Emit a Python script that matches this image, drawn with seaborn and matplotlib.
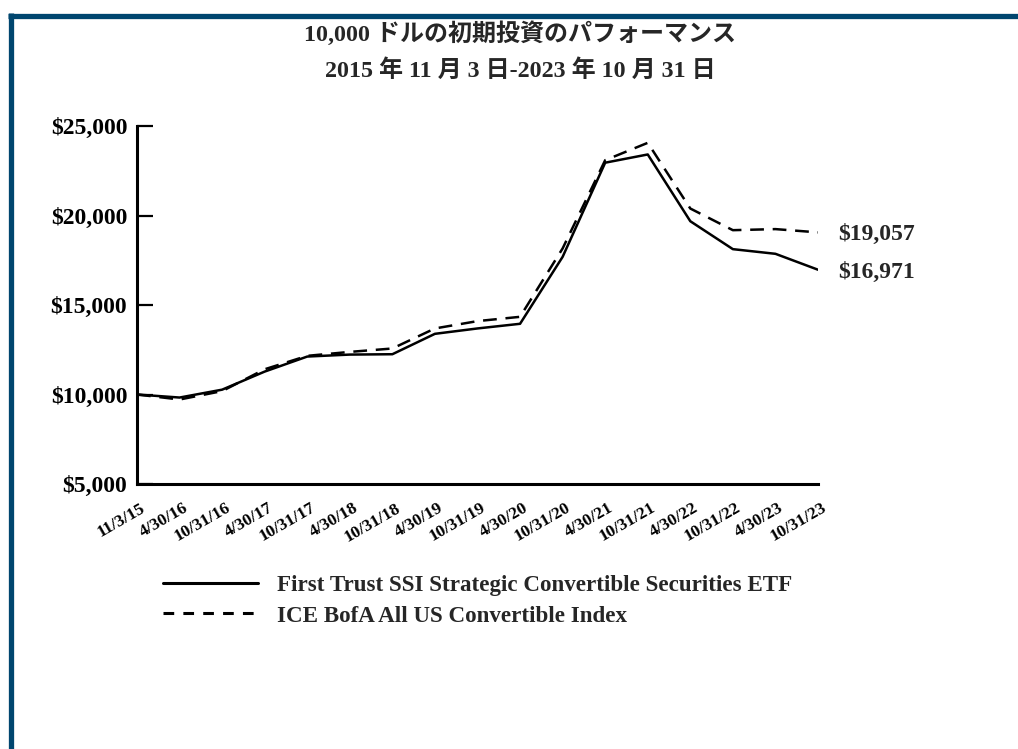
import matplotlib
matplotlib.use("Agg")
import matplotlib.pyplot as plt
import matplotlib.transforms as mtransforms
from matplotlib.lines import Line2D
import seaborn as sns
import pandas as pd

dates = ["11/3/15", "4/30/16", "10/31/16", "4/30/17", "10/31/17", "4/30/18",
         "10/31/18", "4/30/19", "10/31/19", "4/30/20", "10/31/20", "4/30/21",
         "10/31/21", "4/30/22", "10/31/22", "4/30/23", "10/31/23"]
etf_values = [10000, 9830, 10270, 11280, 12120, 12230, 12250, 13390, 13690,
              13950, 17690, 22950, 23410, 19680, 18120, 17860, 16971]
index_values = [10000, 9720, 10190, 11410, 12160, 12380, 12570, 13690, 14100,
                14340, 18160, 23090, 24060, 20390, 19180, 19240, 19057]
series_names = ["First Trust SSI Strategic Convertible Securities ETF",
                "ICE BofA All US Convertible Index"]
end_labels = ["$16,971", "$19,057"]
yticks = [5000, 10000, 15000, 20000, 25000]
ytick_labels = ["$5,000", "$10,000", "$15,000", "$20,000", "$25,000"]
title1 = "10,000 ドルの初期投資のパフォーマンス"
title2 = "2015 年 11 月 3 日-2023 年 10 月 31 日"

sns.set_theme(style="white")
plt.rcParams["font.family"] = ["Liberation Serif", "Noto Sans CJK JP"]

W, H = 1018, 749
fig = plt.figure(figsize=(W / 100, H / 100), dpi=100)
ax = fig.add_axes([137 / W, 1 - 484 / H, (818 - 137) / W, (484 - 126) / H])

x = list(range(len(dates)))
df = pd.DataFrame({
    "x": x * 2,
    "value": etf_values + index_values,
    "series": [series_names[0]] * len(x) + [series_names[1]] * len(x),
})
sns.lineplot(data=df, x="x", y="value", hue="series", style="series",
             palette=["black", "black"], dashes=[(None, None), (5.5, 3.5)],
             linewidth=1.8, ax=ax, legend=False)

ax.set_xlim(0, len(dates) - 1)
ax.set_ylim(5000, 25000)
ax.tick_params(axis="y", direction="in", length=11.5, width=1.6, pad=7,
               colors="black", left=True)
ax.tick_params(axis="x", length=0, pad=0, colors="black")
ax.set_yticks(yticks)
ax.set_yticklabels(ytick_labels, fontsize=17, fontweight="bold")
ax.set_xticks(x)
ax.set_xticklabels(dates, fontsize=12.5, fontweight="bold", rotation=30,
                   ha="right", rotation_mode="anchor")
offset = mtransforms.ScaledTranslation(3 / 100, -16 / 100, fig.dpi_scale_trans)
for lab in ax.get_xticklabels():
    lab.set_transform(lab.get_transform() + offset)
ax.set_xlabel("")
ax.set_ylabel("")
for s in ["top", "right"]:
    ax.spines[s].set_visible(False)
for s in ["left", "bottom"]:
    ax.spines[s].set_color("black")
    ax.spines[s].set_linewidth(2.2)
ax.patch.set_alpha(0)

# end value labels
ax.annotate(end_labels[0], xy=(x[-1], etf_values[-1]), xytext=(14.5, 0),
            textcoords="offset points", va="center_baseline", ha="left",
            fontsize=17, fontweight="bold")
ax.annotate(end_labels[1], xy=(x[-1], index_values[-1]), xytext=(14.5, 0),
            textcoords="offset points", va="center_baseline", ha="left",
            fontsize=17, fontweight="bold")

# legend
handles = [Line2D([], [], color="black", linewidth=2.2),
           Line2D([], [], color="black", linewidth=2.2, dashes=(3.5, 3))]
fig.legend(handles, series_names, loc="upper left",
           bbox_to_anchor=(163 / W, 1 - 575 / H), frameon=False,
           prop={"size": 16.6, "weight": "bold"}, handlelength=4.1,
           handletextpad=0.85, labelspacing=0.4, borderpad=0,
           borderaxespad=0)

# titles
fig.text(520 / W, 1 - 34 / H, title1, ha="center", va="center",
         fontsize=17.3, fontweight="bold")
fig.text(520 / W, 1 - 71 / H, title2, ha="center", va="center",
         fontsize=17.3, fontweight="bold")

# frame border
border = "#00466f"
fig.add_artist(Line2D([8 / W, 1], [1 - 15.5 / H, 1 - 15.5 / H], color=border,
                      linewidth=3.8, transform=fig.transFigure,
                      solid_capstyle="butt"))
fig.add_artist(Line2D([10.5 / W, 10.5 / W], [0, 1 - 13 / H], color=border,
                      linewidth=3.8, transform=fig.transFigure,
                      solid_capstyle="butt"))

fig.savefig("out.png", dpi=100, facecolor="white")
